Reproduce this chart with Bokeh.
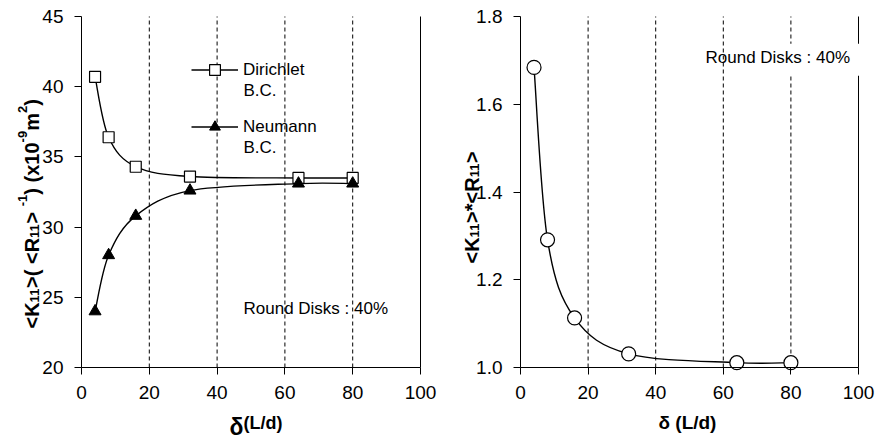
import math

from bokeh.embed import file_html
from bokeh.layouts import row
from bokeh.models import (BoxAnnotation, ColumnDataSource, FixedTicker, Label,
                          Legend, LegendItem, NumeralTickFormatter, Range1d)
from bokeh.plotting import figure
from bokeh.resources import INLINE

# ---- data -------------------------------------------------------------
delta = [4, 8, 16, 32, 64, 80]                      # δ (L/d)
k_dirichlet = [40.7, 36.4, 34.3, 33.6, 33.5, 33.5]  # Dirichlet B.C.
k_neumann = [24.0, 28.0, 30.8, 32.6, 33.1, 33.1]    # Neumann B.C.
kr_product = [1.684, 1.291, 1.113, 1.031, 1.011, 1.011]  # <K11>*<R11>

x_limits = (0, 100)
x_ticks = [0, 20, 40, 60, 80, 100]
dashed_x = [20, 40, 60, 80]
left_y_limits = (20, 45)
left_y_ticks = [20, 25, 30, 35, 40, 45]
right_y_limits = (1.0, 1.8)
right_y_ticks = [1.0, 1.2, 1.4, 1.6, 1.8]

FONT = "Liberation Sans"
HEIGHT = 443

# Arial/Liberation Sans Bold advance widths (per 1000 em)
BOLD_W = {" ": 278, "<": 584, ">": 584, "K": 722, "R": 722, "1": 556, "(": 333,
          ")": 333, "-": 333, "x": 556, "0": 556, "9": 556, "m": 889, "2": 556,
          "*": 389}


def smooth_segments(xs, ys):
    """Cubic Bezier pieces of a Catmull-Rom style smoothed line through the points."""
    n = len(xs)
    seg = dict(x0=[], y0=[], x1=[], y1=[], cx0=[], cy0=[], cx1=[], cy1=[])
    for i in range(n - 1):
        px, py = (xs[i - 1], ys[i - 1]) if i > 0 else (xs[i], ys[i])
        qx, qy = (xs[i + 2], ys[i + 2]) if i + 2 < n else (xs[i + 1], ys[i + 1])
        seg["x0"].append(xs[i]); seg["y0"].append(ys[i])
        seg["x1"].append(xs[i + 1]); seg["y1"].append(ys[i + 1])
        seg["cx0"].append(xs[i] + (xs[i + 1] - px) / 6)
        seg["cy0"].append(ys[i] + (ys[i + 1] - py) / 6)
        seg["cx1"].append(xs[i + 1] - (qx - xs[i]) / 6)
        seg["cy1"].append(ys[i + 1] - (qy - ys[i]) / 6)
    return ColumnDataSource(seg)


def make_fig(width, y_limits, y_ticks, box):
    """Frame fills the whole canvas; the axes sit at fixed data locations inside it.

    box = (left, right, top, bottom) pixel positions of the plotting area.
    """
    left, right, top, bottom = box
    x0, x1 = x_limits
    y0, y1 = y_limits
    sx = (x1 - x0) / (right - left)
    sy = (y1 - y0) / (bottom - top)
    p = figure(width=width, height=HEIGHT,
               x_range=Range1d(x0 - left * sx, x1 + (width - right) * sx),
               y_range=Range1d(y0 - (HEIGHT - bottom) * sy, y1 + top * sy),
               output_backend="svg", toolbar_location=None, min_border=0)
    p.outline_line_color = None
    p.background_fill_color = "white"
    p.border_fill_color = "white"
    p.grid.visible = False

    p.xaxis.fixed_location = y0
    p.xaxis.bounds = x_limits
    p.yaxis.fixed_location = x0
    p.yaxis.bounds = y_limits
    p.xaxis.ticker = FixedTicker(ticks=x_ticks)
    p.yaxis.ticker = FixedTicker(ticks=y_ticks)
    for ax in p.xaxis + p.yaxis:
        ax.major_tick_in = 0
        ax.major_tick_out = 7
        ax.minor_tick_line_color = None
        ax.axis_line_color = "black"
        ax.major_tick_line_color = "black"
        ax.major_label_text_font = FONT
        ax.major_label_text_font_size = "19px"
        ax.major_label_text_color = "black"
    p.xaxis.major_label_standoff = 11
    p.yaxis.major_label_standoff = 11

    # dashed vertical guides and the solid right-hand border
    n = len(dashed_x)
    p.segment(x0=dashed_x, x1=dashed_x, y0=[y0] * n, y1=[y1] * n,
              line_color="black", line_width=1, line_dash="4 3")
    p.segment(x0=[x1], x1=[x1], y0=[y0], y1=[y1], line_color="black", line_width=1)
    return p


def rotated_label(p, pieces, x_base, y_start, main_size, small_size):
    """Vertical axis title assembled from normal, subscript and superscript runs."""
    y = y_start
    for text, kind, gap in pieces:
        size = main_size if kind == "n" else small_size
        dx = {"n": 0, "sub": 3, "sup": -9}[kind]
        p.add_layout(Label(x=x_base + dx, y=y, x_units="screen", y_units="screen",
                           text=text, angle=math.pi / 2, text_font=FONT,
                           text_font_size=f"{size}px", text_font_style="bold",
                           text_align="left", text_baseline="alphabetic",
                           text_color="black"))
        y += sum(BOLD_W[c] for c in text) / 1000 * size + gap * main_size


def text_label(p, x, y, text, size="17px", bold=False, baseline="middle"):
    p.add_layout(Label(x=x, y=y, x_units="screen", y_units="screen", text=text,
                       text_font=FONT, text_font_size=size,
                       text_font_style="bold" if bold else "normal",
                       text_align="left", text_baseline=baseline, text_color="black"))


# ---- left panel: <K11>(<R11>^-1) ----------------------------------------
p1 = make_fig(440, left_y_limits, left_y_ticks, (81, 420, 16, 367))

bz_d = p1.bezier(x0="x0", y0="y0", x1="x1", y1="y1", cx0="cx0", cy0="cy0",
                 cx1="cx1", cy1="cy1", source=smooth_segments(delta, k_dirichlet),
                 line_color="black", line_width=1.4)
bz_n = p1.bezier(x0="x0", y0="y0", x1="x1", y1="y1", cx0="cx0", cy0="cy0",
                 cx1="cx1", cy1="cy1", source=smooth_segments(delta, k_neumann),
                 line_color="black", line_width=1.4)
sc_d = p1.scatter(delta, k_dirichlet, marker="square", size=11,
                  fill_color="white", line_color="black", line_width=1.2)
sc_n = p1.scatter(delta, k_neumann, marker="triangle", size=12,
                  fill_color="black", line_color="black")

legend = Legend(items=[LegendItem(label="Dirichlet", renderers=[bz_d, sc_d]),
                       LegendItem(label="Neumann", renderers=[bz_n, sc_n])],
                location=(191, 303), glyph_width=47, glyph_height=27, label_height=27,
                spacing=30, padding=0, margin=0, label_standoff=5,
                border_line_color=None, background_fill_alpha=0,
                label_text_font=FONT, label_text_font_size="17px",
                label_text_color="black", label_text_baseline="middle")
p1.add_layout(legend)
text_label(p1, 243, 353, "B.C.")
text_label(p1, 243, 296, "B.C.")
text_label(p1, 243, 135, "Round Disks : 40%")

rotated_label(p1, [("<K", "n", 0), ("11", "sub", 0), (">(", "n", 0.278), ("<R", "n", 0),
                   ("11", "sub", 0), (">", "n", 0.278), ("-1", "sup", 0),
                   (")", "n", 0.278), ("(x10", "n", 0), ("-9", "sup", 0),
                   ("m", "n", 0), ("2", "sup", 0), (")", "n", 0)],
              31, 115, 20, 13)
text_label(p1, 229, 17, "δ", size="23px", bold=True)
text_label(p1, 243, 21, "(L/d)", size="18px", bold=True)

# ---- right panel: <K11>*<R11> ------------------------------------------
p2 = make_fig(439, right_y_limits, right_y_ticks, (80, 418, 16, 367))
p2.yaxis.formatter = NumeralTickFormatter(format="0.0")

p2.bezier(x0="x0", y0="y0", x1="x1", y1="y1", cx0="cx0", cy0="cy0",
          cx1="cx1", cy1="cy1", source=smooth_segments(delta, kr_product),
          line_color="black", line_width=1.4)
p2.scatter(delta, kr_product, marker="circle", size=14,
           fill_color="white", line_color="black", line_width=1.2)

p2.add_layout(BoxAnnotation(left=70, right=101.5, bottom=1.665, top=1.738,
                            fill_color="white", fill_alpha=1, line_color=None))
text_label(p2, 265, 386, "Round Disks : 40%")

rotated_label(p2, [("<K", "n", 0), ("11", "sub", 0), (">*<R", "n", 0),
                   ("11", "sub", 0), (">", "n", 0)],
              31, 180, 20, 13)
text_label(p2, 218, 21, "δ (L/d)", size="19px", bold=True)

layout = row(p1, p2)
open("out.html", "w").write(file_html(layout, INLINE))
